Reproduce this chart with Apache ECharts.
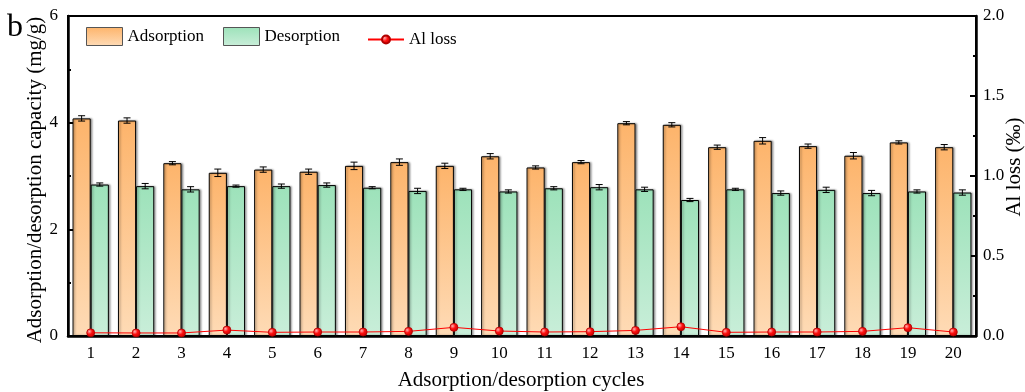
<!DOCTYPE html>
<html>
<head>
<meta charset="utf-8">
<script src="https://cdn.jsdelivr.net/npm/echarts@6/dist/echarts.min.js"></script>
<style>
  html, body { margin: 0; padding: 0; background: #fff; }
  #chart { width: 1025px; height: 392px; }
</style>
</head>
<body>
<div id="chart"></div>
<script>
// Cycle numbers on the x axis
const cycles = ['1','2','3','4','5','6','7','8','9','10','11','12','13','14','15','16','17','18','19','20'];

// Adsorption capacity (mg/g) and its error
const adsorption = [4.08, 4.04, 3.24, 3.06, 3.12, 3.08, 3.19, 3.26, 3.19, 3.37, 3.16, 3.26, 3.99, 3.96, 3.54, 3.66, 3.56, 3.38, 3.63, 3.54];
const adsorptionErr = [0.05, 0.05, 0.03, 0.07, 0.05, 0.05, 0.07, 0.06, 0.05, 0.05, 0.03, 0.03, 0.03, 0.04, 0.04, 0.06, 0.04, 0.06, 0.03, 0.05];

// Desorption capacity (mg/g) and its error
const desorption = [2.84, 2.81, 2.75, 2.81, 2.81, 2.83, 2.78, 2.72, 2.75, 2.71, 2.77, 2.79, 2.75, 2.55, 2.75, 2.68, 2.74, 2.68, 2.71, 2.69];
const desorptionErr = [0.03, 0.05, 0.05, 0.02, 0.04, 0.04, 0.02, 0.05, 0.02, 0.03, 0.03, 0.05, 0.04, 0.03, 0.02, 0.04, 0.05, 0.05, 0.03, 0.05];

// Al loss (‰)
const alLoss = [0.020, 0.019, 0.019, 0.037, 0.023, 0.025, 0.025, 0.029, 0.054, 0.031, 0.025, 0.027, 0.035, 0.058, 0.023, 0.025, 0.025, 0.029, 0.052, 0.025];

// Left / right axis ticks
const leftTicks = { min: 0, max: 6, interval: 2 };
const rightTicks = { min: 0, max: 2, interval: 0.5 };

const FONT = '"Liberation Serif", "Times New Roman", serif';

function errorBarRenderer(values, errors, side) {
  return function (params, api) {
    const i = api.value(0);
    const v = values[i];
    const e = errors[i];
    const band = api.size([1, 0])[0];
    const offset = side * band * 0.2;
    const top = api.coord([i, v + e]);
    const bot = api.coord([i, v - e]);
    const x = top[0] + offset;
    const cap = 3.5;
    const style = { stroke: '#000', lineWidth: 1 };
    return {
      type: 'group',
      children: [
        { type: 'line', shape: { x1: x, y1: top[1], x2: x, y2: bot[1] }, style },
        { type: 'line', shape: { x1: x - cap, y1: top[1], x2: x + cap, y2: top[1] }, style },
        { type: 'line', shape: { x1: x - cap, y1: bot[1], x2: x + cap, y2: bot[1] }, style }
      ]
    };
  };
}

const orangeFill = new echarts.graphic.LinearGradient(0, 0, 0, 1, [
  { offset: 0, color: '#FDB46B' },
  { offset: 1, color: '#FEDBB6' }
]);
const greenFill = new echarts.graphic.LinearGradient(0, 0, 0, 1, [
  { offset: 0, color: '#9DE2BA' },
  { offset: 1, color: '#C9EED9' }
]);
const dotFill = new echarts.graphic.RadialGradient(0.35, 0.35, 0.7, [
  { offset: 0, color: '#FFB0B0' },
  { offset: 0.45, color: '#FF1010' },
  { offset: 1, color: '#C00000' }
]);

const legendText = { fontFamily: FONT, fontSize: 17, color: '#000', padding: [0, 0, 0, 0] };

const chart = echarts.init(document.getElementById('chart'), null, { renderer: 'canvas' });

chart.setOption({
  animation: false,
  backgroundColor: '#fff',
  grid: {
    left: 68, right: 49, top: 16, bottom: 56,
    show: true, borderColor: '#000', borderWidth: 2, backgroundColor: 'transparent'
  },
  legend: [
    {
      data: [{ name: 'Adsorption', icon: 'rect' }], left: 86, top: 27, padding: 0,
      itemWidth: 36, itemHeight: 18,
      textStyle: legendText, itemStyle: { borderColor: '#555', borderWidth: 1 }
    },
    {
      data: [{ name: 'Desorption', icon: 'rect' }], left: 223, top: 27, padding: 0,
      itemWidth: 36, itemHeight: 18,
      textStyle: legendText, itemStyle: { borderColor: '#555', borderWidth: 1 }
    },
    {
      data: ['Al loss'], left: 367, top: 31, padding: 0,
      itemWidth: 36, itemHeight: 10,
      textStyle: legendText
    }
  ],
  xAxis: [
    {
      type: 'category', data: cycles, position: 'bottom',
      axisLine: { lineStyle: { color: '#000', width: 2.5 } },
      axisTick: { inside: true, alignWithLabel: true, length: 6, lineStyle: { color: '#000', width: 2 } },
      axisLabel: { fontFamily: FONT, fontSize: 17, color: '#000', margin: 9 },
      splitLine: { show: false }
    },
    {
      type: 'category', data: cycles, position: 'bottom',
      axisLine: { show: false },
      axisTick: { inside: true, length: 3, lineStyle: { color: '#000', width: 2 } },
      axisLabel: { show: false },
      splitLine: { show: false }
    }
  ],
  yAxis: [
    {
      type: 'value', min: leftTicks.min, max: leftTicks.max, interval: leftTicks.interval,
      position: 'left',
      axisLine: { show: true, lineStyle: { color: '#000', width: 2.5 } },
      axisTick: { show: true, inside: true, length: 6, lineStyle: { color: '#000', width: 2 } },
      minorTick: { show: true, splitNumber: 2, length: 3, lineStyle: { color: '#000', width: 2 } },
      axisLabel: { fontFamily: FONT, fontSize: 17, color: '#000', margin: 10 },
      splitLine: { show: false }
    },
    {
      type: 'value', min: rightTicks.min, max: rightTicks.max, interval: rightTicks.interval,
      position: 'right',
      axisLine: { show: true, lineStyle: { color: '#000', width: 2.5 } },
      axisTick: { show: true, inside: true, length: 6, lineStyle: { color: '#000', width: 2 } },
      minorTick: { show: true, splitNumber: 2, length: 3, lineStyle: { color: '#000', width: 2 } },
      axisLabel: { fontFamily: FONT, fontSize: 17, color: '#000', margin: 7,
        formatter: v => v.toFixed(1) },
      splitLine: { show: false }
    }
  ],
  graphic: [
    {
      type: 'text', x: 7, y: 12,
      style: { text: 'b', font: '32px ' + FONT, fill: '#000', textVerticalAlign: 'top' }
    },
    {
      type: 'text', x: 35, y: 180, rotation: Math.PI / 2,
      style: {
        text: 'Adsorption/desorption capacity (mg/g)', font: '21px ' + FONT, fill: '#000',
        textAlign: 'center', textVerticalAlign: 'middle'
      }
    },
    {
      type: 'text', x: 1014, y: 167, rotation: Math.PI / 2,
      style: {
        text: 'Al loss (‰)', font: '21px ' + FONT, fill: '#000',
        textAlign: 'center', textVerticalAlign: 'middle'
      }
    },
    {
      type: 'text', x: 521, y: 380,
      style: {
        text: 'Adsorption/desorption cycles', font: '21px ' + FONT, fill: '#000',
        textAlign: 'center', textVerticalAlign: 'middle'
      }
    }
  ],
  series: [
    {
      name: 'Adsorption', type: 'bar', data: adsorption,
      xAxisIndex: 0, yAxisIndex: 0,
      barWidth: '40%', barGap: '0%',
      itemStyle: {
        color: orangeFill, borderColor: '#000', borderWidth: 1,
        shadowColor: 'rgba(0,0,0,0.35)', shadowBlur: 2, shadowOffsetX: 1.5, shadowOffsetY: 0
      },
      z: 2
    },
    {
      name: 'Desorption', type: 'bar', data: desorption,
      xAxisIndex: 0, yAxisIndex: 0,
      barWidth: '40%', barGap: '0%',
      itemStyle: {
        color: greenFill, borderColor: '#000', borderWidth: 1,
        shadowColor: 'rgba(0,0,0,0.35)', shadowBlur: 2, shadowOffsetX: 1.5, shadowOffsetY: 0
      },
      z: 2
    },
    {
      type: 'custom', xAxisIndex: 0, yAxisIndex: 0,
      renderItem: errorBarRenderer(adsorption, adsorptionErr, -1),
      data: adsorption.map((v, i) => [i, v]), z: 3, silent: true
    },
    {
      type: 'custom', xAxisIndex: 0, yAxisIndex: 0,
      renderItem: errorBarRenderer(desorption, desorptionErr, 1),
      data: desorption.map((v, i) => [i, v]), z: 3, silent: true
    },
    {
      name: 'Al loss', type: 'line', data: alLoss,
      xAxisIndex: 0, yAxisIndex: 1,
      symbol: 'circle', symbolSize: 8,
      lineStyle: { color: '#FF0000', width: 1 },
      itemStyle: { color: dotFill, borderColor: '#B00000', borderWidth: 0.8 },
      z: 5
    }
  ]
});
</script>
</body>
</html>
